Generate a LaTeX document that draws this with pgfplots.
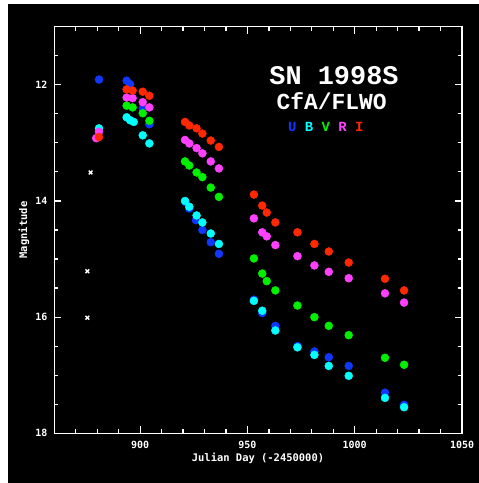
\documentclass[border=0pt]{standalone}
\usepackage{pgfplots}
\pgfplotsset{compat=1.18}
\usepackage{fontspec}
\setmainfont{DejaVu Sans}
\newfontfamily\monofont{DejaVu Sans Mono}
\newfontfamily\titlefont{Liberation Mono}
\definecolor{ublue}{RGB}{15,55,255}
\definecolor{bcyan}{RGB}{0,255,255}
\definecolor{vgreen}{RGB}{0,240,0}
\definecolor{rmag}{RGB}{255,64,255}
\definecolor{ired}{RGB}{255,40,0}
\begin{document}
\begin{tikzpicture}[x=1bp,y=1bp]
\useasboundingbox (0,0) rectangle (479,483);
\fill[white] (0,0) rectangle (479,483);
\fill[black] (8,0) rectangle (479,479);
\begin{axis}[
  at={(54.33bp,49.67bp)}, anchor=south west,
  scale only axis, width=407.67bp, height=406.67bp,
  xmin=860, xmax=1050, ymin=11, ymax=18, y dir=reverse,
  xtick={900,950,1000,1050}, xticklabels={900,950,1000,1050},
  minor xtick={870,880,890,910,920,930,940,960,970,980,990,1010,1020,1030,1040},
  ytick={12,14,16,18}, yticklabels={12,14,16,18},
  minor ytick={11.5,12.5,13,13.5,14.5,15,15.5,16.5,17,17.5},
  axis line style={white, line width=1.2bp},
  tick style={white, line width=1.2bp},
  major tick length=7bp, minor tick length=4bp,
  ticklabel style={font=\monofont\bfseries\fontsize{10}{12}\selectfont, text=white},
  xticklabel style={yshift=-4bp},
  yticklabel style={xshift=-3.5bp},
  clip=false,
  every axis plot/.append style={only marks},
]
\addplot[mark=*, mark size=4bp, mark options={fill=ublue, draw=ublue}] coordinates {
(880.8,11.91) (893.7,11.93) (895.3,11.99) (901.2,12.41) (904.3,12.68)
(921.2,14.02) (922.9,14.13) (926.0,14.33) (929.0,14.50) (932.9,14.71) (936.7,14.91)
(953.0,15.70) (956.9,15.93) (963.0,16.15) (973.3,16.50) (981.2,16.59) (987.9,16.69)
(997.2,16.84) (1014.1,17.30) (1023.0,17.51)};
\addplot[mark=*, mark size=4bp, mark options={fill=bcyan, draw=bcyan}] coordinates {
(880.8,12.75) (893.7,12.56) (895.3,12.61) (897.0,12.64) (901.2,12.87) (904.3,13.01)
(920.9,14.00) (922.9,14.10) (926.3,14.25) (929.0,14.37) (932.9,14.56) (936.7,14.74)
(953.0,15.72) (956.9,15.89) (963.0,16.23) (973.3,16.52) (981.2,16.65) (987.9,16.84)
(997.2,17.01) (1014.1,17.39) (1023.0,17.55)};
\addplot[mark=*, mark size=4bp, mark options={fill=vgreen, draw=vgreen}] coordinates {
(893.7,12.36) (896.5,12.39) (901.2,12.49) (904.3,12.62)
(920.9,13.32) (922.9,13.39) (926.3,13.51) (929.0,13.59) (932.9,13.77) (936.7,13.93)
(953.0,14.99) (956.9,15.25) (959.0,15.38) (963.0,15.54) (973.3,15.80) (981.2,16.00)
(987.9,16.15) (997.2,16.31) (1014.1,16.70) (1023.0,16.82)};
\addplot[mark=*, mark size=4bp, mark options={fill=rmag, draw=rmag}] coordinates {
(879.5,12.92) (880.8,12.81) (893.7,12.22) (896.5,12.23) (901.2,12.30) (904.3,12.39)
(920.9,12.95) (922.9,13.01) (926.3,13.09) (929.0,13.18) (932.9,13.32) (936.7,13.44)
(953.0,14.30) (956.9,14.54) (959.0,14.61) (963.0,14.76) (973.3,14.95) (981.2,15.11)
(987.9,15.22) (997.2,15.33) (1014.1,15.59) (1023.0,15.75)};
\addplot[mark=*, mark size=4bp, mark options={fill=ired, draw=ired}] coordinates {
(880.8,12.90) (893.7,12.08) (896.5,12.10) (901.2,12.12) (904.3,12.19)
(920.9,12.64) (922.9,12.70) (926.3,12.75) (929.0,12.84) (932.9,12.96) (936.7,13.07)
(953.0,13.89) (956.9,14.08) (959.0,14.20) (963.0,14.37) (973.3,14.54) (981.2,14.74)
(987.9,14.87) (997.2,15.06) (1014.1,15.34) (1023.0,15.54)};
\addplot[mark=x, mark size=2.6bp, mark options={draw=white, line width=1.4bp}] coordinates {
(876.9,13.51) (875.4,15.21) (875.4,16.01)};
\end{axis}
\node[anchor=base, text=white, font=\titlefont\bfseries\fontsize{27}{30}\selectfont] at (334,398) {SN 1998S};
\node[anchor=base, text=white, font=\titlefont\bfseries\fontsize{23}{26}\selectfont] at (331.7,373) {CfA/FLWO};
\node[anchor=base, font=\titlefont\bfseries\fontsize{14}{16}\selectfont] at (325.8,351.3) {\textcolor{ublue}{U} \textcolor{bcyan}{B} \textcolor{vgreen}{V} \textcolor{rmag}{R} \textcolor{ired}{I}};
\node[anchor=base, text=white, font=\monofont\bfseries\fontsize{10.5}{12}\selectfont] at (258,21.5) {Julian Day (-2450000)};
\node[anchor=base, rotate=90, text=white, font=\monofont\bfseries\fontsize{10.5}{12}\selectfont] at (27,253) {Magnitude};
\end{tikzpicture}
\end{document}
